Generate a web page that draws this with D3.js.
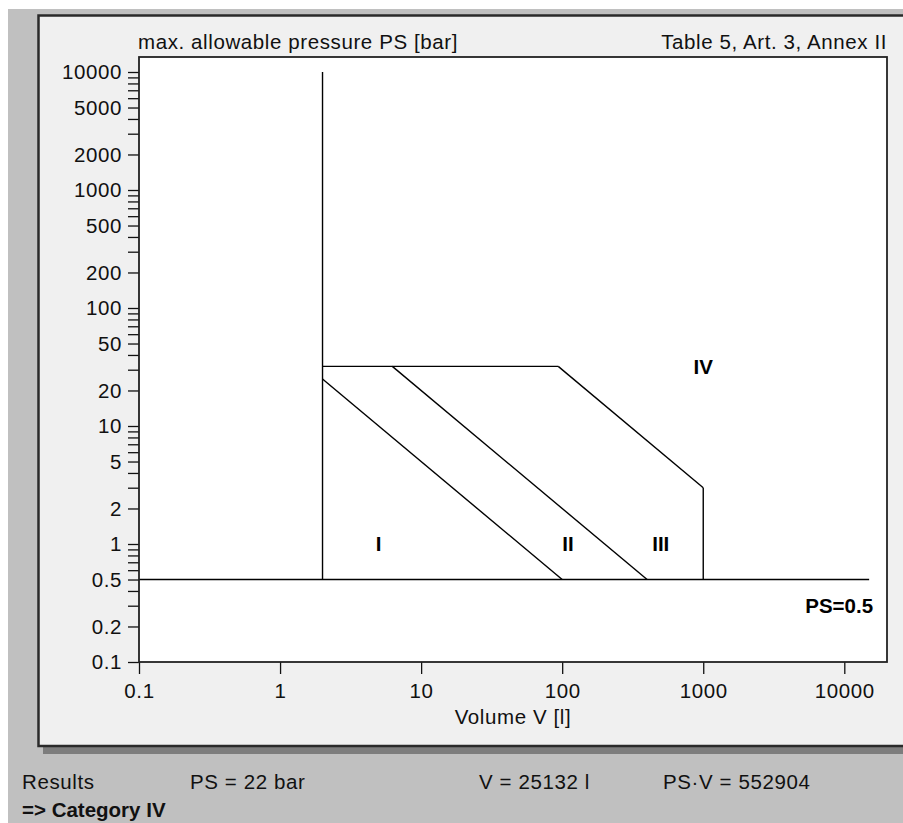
<!DOCTYPE html>
<html>
<head>
<meta charset="utf-8">
<script src="https://cdn.jsdelivr.net/npm/d3@7"></script>
<style>
  body { margin: 0; background: #fff; }
  svg { display: block; font-family: "Liberation Sans", Arial, sans-serif; }
  .axis text { font-size: 20.5px; fill: #111; letter-spacing: 0.6px; }
  .axis line { stroke: #111; stroke-width: 1.3; }
  .axis path { display: none; }
  .limit { fill: none; stroke: #000; stroke-width: 1.4; }
  .cat { font-size: 20.5px; font-weight: bold; text-anchor: middle; fill: #000; }
  .label { font-size: 20.5px; fill: #111; letter-spacing: 0.6px; }
</style>
</head>
<body>
<div id="chart"></div>
<script>
// boundary lines of Table 5, [V, PS] pairs
var linePs05 = [[0.1, 0.5], [15000, 0.5]];
var lineV2 = [[2, 0.5], [2, 10000]];
var linePs32 = [[2, 32], [93.75, 32]];
var linePsv50 = [[2, 25], [100, 0.5]];
var linePsv200 = [[6.25, 32], [400, 0.5]];
var linePsv3000 = [[93.75, 32], [1000, 3]];
var lineV1000 = [[1000, 3], [1000, 0.5]];

// region labels
var catNames = ['I', 'II', 'III', 'IV'];
var catV = [5, 110, 500, 1000];
var catPs = [1, 1, 1, 32];

// axis ticks
var xTicks = [0.1, 1, 10, 100, 1000, 10000];
var yLabels = [0.1, 0.2, 0.5, 1, 2, 5, 10, 20, 50, 100, 200, 500, 1000, 2000, 5000, 10000];

var resultTexts = ['Results', 'PS = 22 bar', 'V = 25132 l', 'PS\u00b7V = 552904'];
var resultX = [22, 190, 479, 663];

var width = 903;
var height = 823;

var plot = { left: 139, top: 57, right: 887, bottom: 662 };

var svg = d3.select('#chart')
  .append('svg')
  .attr('width', width)
  .attr('height', height);

// window background
svg.append('rect')
  .attr('x', 8).attr('y', 9)
  .attr('width', width - 8).attr('height', height - 9)
  .attr('fill', '#c0c0c0');

// panel shadow + panel
svg.append('rect')
  .attr('x', 43).attr('y', 747)
  .attr('width', width).attr('height', 7)
  .attr('fill', '#7d7d7d');
svg.append('rect')
  .attr('x', 38.5).attr('y', 15.5)
  .attr('width', width).attr('height', 730.5)
  .attr('fill', '#f0f0f0')
  .attr('stroke', '#2a2a2a')
  .attr('stroke-width', 2.5);

var x = d3.scaleLog()
  .domain([0.1, 10000])
  .range([plot.left, 844.3]);

var y = d3.scaleLog()
  .domain([0.1, 10000])
  .range([plot.bottom, 72]);

// plot area
svg.append('rect')
  .attr('x', x(0.1)).attr('y', plot.top)
  .attr('width', plot.right - x(0.1))
  .attr('height', y(0.1) - plot.top)
  .attr('fill', '#fff');

var fmt = function(d) { return String(+d.toPrecision(3)); };

var y_axis = d3.axisLeft(y)
  .tickValues(y.ticks())
  .tickSize(11)
  .tickPadding(6)
  .tickFormat(function(d) {
    return yLabels.some(function(v) { return Math.abs(v - d) / v < 1e-6; }) ? fmt(d) : '';
  });

var x_axis = d3.axisBottom(x)
  .tickValues(xTicks)
  .tickSize(12)
  .tickPadding(9)
  .tickFormat(fmt);

svg.append('g')
  .attr('class', 'y axis')
  .attr('transform', 'translate(' + plot.left + ',0)')
  .call(y_axis);

svg.append('g')
  .attr('class', 'x axis')
  .attr('transform', 'translate(0,' + plot.bottom + ')')
  .call(x_axis);

// limit lines
var line = d3.line()
  .x(function(d) { return x(d[0]); })
  .y(function(d) { return y(d[1]); });

svg.selectAll('.limit')
  .data([linePs05, lineV2, linePs32, linePsv50, linePsv200, linePsv3000, lineV1000])
  .enter()
  .append('path')
  .attr('class', 'limit')
  .attr('d', line);

// plot frame on top
svg.append('rect')
  .attr('x', x(0.1)).attr('y', plot.top)
  .attr('width', plot.right - x(0.1))
  .attr('height', y(0.1) - plot.top)
  .attr('fill', 'none')
  .attr('stroke', '#222')
  .attr('stroke-width', 1.8);

// category labels
svg.selectAll('.cat')
  .data(catNames)
  .enter()
  .append('text')
  .attr('class', 'cat')
  .attr('x', function(d, i) { return x(catV[i]); })
  .attr('y', function(d, i) { return y(catPs[i]); })
  .attr('dy', '0.36em')
  .text(function(d) { return d; });

svg.append('text')
  .attr('x', x(16000))
  .attr('y', y(0.3))
  .attr('dy', '0.36em')
  .attr('text-anchor', 'end')
  .style('font-size', '20.5px')
  .style('font-weight', 'bold')
  .text('PS=0.5');

// titles
svg.append('text')
  .attr('class', 'label')
  .attr('x', plot.left - 1)
  .attr('y', 49)
  .text('max. allowable pressure PS [bar]');

svg.append('text')
  .attr('class', 'label')
  .attr('x', plot.right)
  .attr('y', 49)
  .attr('text-anchor', 'end')
  .text('Table 5, Art. 3, Annex II');

svg.append('text')
  .attr('class', 'label')
  .attr('x', (plot.left + plot.right) / 2)
  .attr('y', 724)
  .attr('text-anchor', 'middle')
  .text('Volume V [l]');

// results below the panel
svg.selectAll('.result')
  .data(resultTexts)
  .enter()
  .append('text')
  .attr('class', 'label result')
  .attr('x', function(d, i) { return resultX[i]; })
  .attr('y', 789)
  .text(function(d) { return d; });

svg.append('text')
  .attr('x', 22)
  .attr('y', 817)
  .style('font-size', '20.5px')
  .style('font-weight', 'bold')
  .attr('fill', '#111')
  .text('=> Category IV');
</script>
</body>
</html>
